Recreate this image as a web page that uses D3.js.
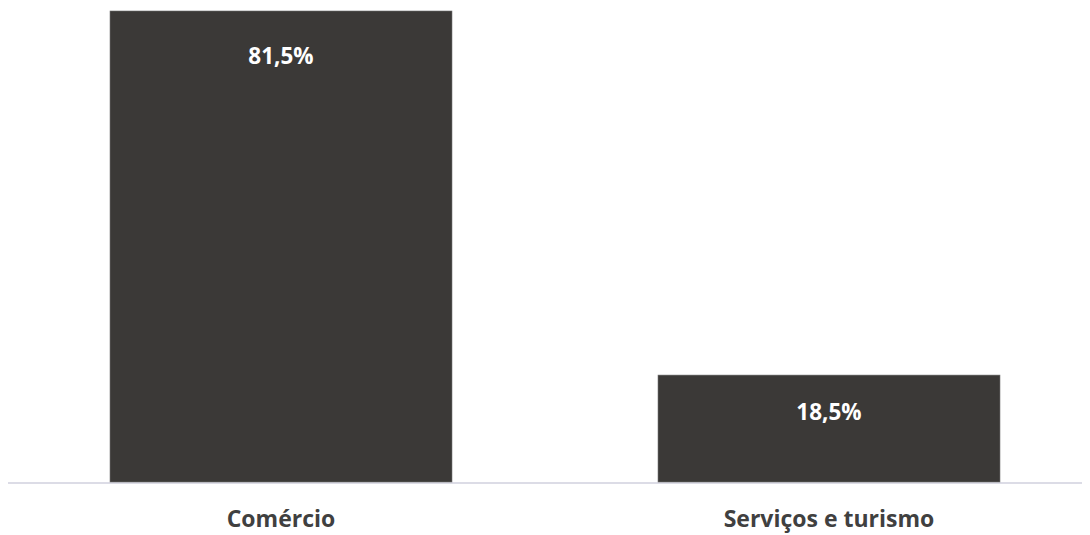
<!DOCTYPE html>
<html>
<head>
<meta charset="utf-8">
<script src="https://cdn.jsdelivr.net/npm/d3@7"></script>
<style>
  html, body { margin: 0; padding: 0; background: #ffffff; }
  svg { display: block; }
</style>
</head>
<body>
<script>
const categories = ["Comércio", "Serviços e turismo"];
const values = [81.5, 18.5];
const valueLabels = ["81,5%", "18,5%"];

const W = 1090, H = 535;
const svg = d3.select("body").append("svg").attr("width", W).attr("height", H);

const x = d3.scaleBand().domain(categories).range([7, 1103]).paddingInner(0.376).paddingOuter(0.188);
const y = d3.scaleLinear().domain([0, 81.5]).range([482, 11]);

svg.append("line")
  .attr("x1", 8).attr("x2", 1082)
  .attr("y1", 483).attr("y2", 483)
  .attr("stroke", "#dcdce6").attr("stroke-width", 2);

svg.selectAll("rect.bar").data(values).join("rect")
  .attr("class", "bar")
  .attr("x", (d, i) => x(categories[i]))
  .attr("width", x.bandwidth())
  .attr("y", d => y(d))
  .attr("height", d => y(0) - y(d))
  .attr("fill", "#3b3937")
  .attr("stroke", "#6b6b6b").attr("stroke-width", 0.6);

svg.selectAll("text.val").data(values).join("text")
  .attr("class", "val")
  .attr("x", (d, i) => x(categories[i]) + x.bandwidth() / 2)
  .attr("y", d => y(d) + 42.3 + 0.0227 * (y(0) - y(d)))
  .attr("text-anchor", "middle")
  .attr("font-family", "'Open Sans', sans-serif")
  .attr("font-weight", "bold")
  .attr("font-size", 22.5)
  .attr("fill", "#ffffff")
  .text((d, i) => valueLabels[i]);

svg.selectAll("text.cat").data(categories).join("text")
  .attr("class", "cat")
  .attr("x", d => x(d) + x.bandwidth() / 2)
  .attr("y", 527)
  .attr("text-anchor", "middle")
  .attr("font-family", "'Open Sans', sans-serif")
  .attr("font-weight", "bold")
  .attr("font-size", 23)
  .attr("fill", "#404040")
  .text(d => d);
</script>
</body>
</html>
